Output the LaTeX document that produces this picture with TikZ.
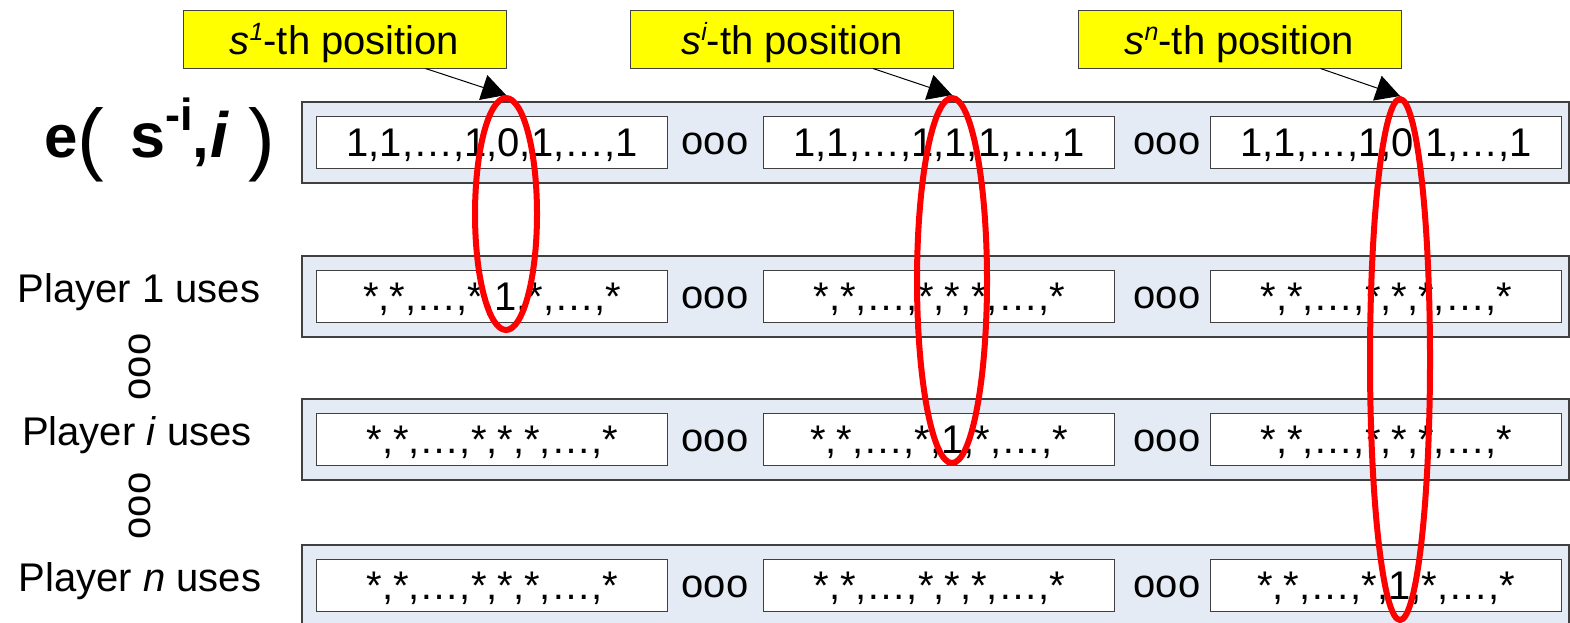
\documentclass[tikz,border=0pt]{standalone}
\usepackage{fontspec}
\setmainfont{Liberation Sans}
\usetikzlibrary{arrows.meta,shapes.geometric,calc}
\definecolor{rowfill}{RGB}{228,235,245}
\definecolor{edgegray}{RGB}{64,64,64}
\definecolor{calloutyellow}{RGB}{255,255,0}
\tikzset{
  rowbox/.style={draw=edgegray, fill=rowfill, line width=1.5pt, minimum width=1267pt, minimum height=81pt, inner sep=0pt, anchor=north west},
  cellbox/.style={draw=edgegray, fill=white, line width=1.3pt, minimum width=351pt, minimum height=52pt, inner sep=0pt, anchor=north west, font=\fontsize{40}{48}\selectfont, text height=28pt, text depth=0pt},
  sepdots/.style={anchor=base, inner sep=0pt, font=\fontsize{40}{48}\selectfont},
  rowlabel/.style={anchor=base, inner sep=0pt, font=\fontsize{40}{48}\selectfont},
  callout/.style={draw=edgegray, fill=calloutyellow, line width=1pt, minimum width=323pt, minimum height=58pt, inner sep=0pt, font=\fontsize{40}{48}\selectfont, text height=30pt, text depth=0pt},
  redring/.style={ellipse, draw=red, line width=6pt, inner sep=0pt},
  pointer/.style={-{Triangle[length=24pt,width=26pt]}, line width=1pt, black},
}
\newcommand{\supit}[1]{\raisebox{14pt}{\fontsize{25}{25}\selectfont\itshape #1}}
\begin{document}
\begin{tikzpicture}[x=1pt,y=-1pt]
\useasboundingbox (0,0) rectangle (1570,622);
\clip (0,0) rectangle (1570,622);

% rows
\foreach \r/\t in {r1/101, r2/255, r3/398, r4/544}{
  \node[rowbox] (\r) at (301,\t) {};
}
% cells row 1
\node[cellbox] (c11) at (316,116) {1,1,…,1,0,1,…,1};
\node[cellbox] (c12) at (763,116) {1,1,…,1,1,1,…,1};
\node[cellbox] (c13) at (1210,116) {1,1,…,1,0,1,…,1};
% row 2
\node[cellbox] (c21) at (316,270) {*,*,…,*,1,*,…,*};
\node[cellbox] (c22) at (763,270) {*,*,…,*,*,*,…,*};
\node[cellbox] (c23) at (1210,270) {*,*,…,*,*,*,…,*};
% row 3
\node[cellbox] (c31) at (316,413) {*,*,…,*,*,*,…,*};
\node[cellbox] (c32) at (763,413) {*,*,…,*,1,*,…,*};
\node[cellbox] (c33) at (1210,413) {*,*,…,*,*,*,…,*};
% row 4
\node[cellbox] (c41) at (316,559) {*,*,…,*,*,*,…,*};
\node[cellbox] (c42) at (763,559) {*,*,…,*,*,*,…,*};
\node[cellbox] (c43) at (1210,559) {*,*,…,*,1,*,…,*};

% ooo separators
\foreach \b/\n in {154/1, 308/2, 451/3, 597/4}{
  \node[sepdots] (sa\n) at (715,\b) {ooo};
  \node[sepdots] (sb\n) at (1167,\b) {ooo};
}

% labels
\node[anchor=base west, inner sep=0pt] (elabel) at (44,157)
  {{\fontsize{60}{60}\selectfont\bfseries e}{\fontsize{80}{80}\selectfont\raisebox{-8pt}{(}}\hspace{26pt}{\fontsize{63}{60}\selectfont\bfseries s}\raisebox{27pt}{\fontsize{45}{45}\selectfont\bfseries -i}{\fontsize{60}{60}\selectfont\bfseries ,}\hspace{1pt}{\fontsize{64}{60}\selectfont\bfseries\itshape i}\hspace{20pt}{\fontsize{80}{80}\selectfont\raisebox{-8pt}{)}}};
\node[rowlabel] (p1) at (139,302) {Player 1 uses};
\node[rowlabel] (pi) at (137,445) {Player \textit{i} uses};
\node[rowlabel] (pn) at (140,591) {Player \textit{n} uses};
\node[rotate=90, inner sep=0pt, font=\fontsize{40}{48}\selectfont] (vd1) at (140,367) {ooo};
\node[rotate=90, inner sep=0pt, font=\fontsize{40}{48}\selectfont] (vd2) at (140,506) {ooo};

% callouts
\node[callout] (k1) at (344.5,39) {\textit{s}\supit{1}-th position};
\node[callout] (k2) at (792,39) {\textit{s}\supit{i}-th position};
\node[callout] (k3) at (1239.5,39) {\textit{s}\supit{n}-th position};

% red ellipses
\node[redring, minimum width=62pt, minimum height=232pt] (e1) at (506,214) {};
\node[redring, minimum width=70pt, minimum height=365pt] (e2) at (952,280.5) {};
\node[redring, minimum width=60pt, minimum height=521pt] (e3) at (1400,359.5) {};

% pointers
\draw[pointer] ($(k1.south)+(81,0)$) -- (e1.north);
\draw[pointer] ($(k2.south)+(81,0)$) -- (e2.north);
\draw[pointer] ($(k3.south)+(81,0)$) -- (e3.north);
\end{tikzpicture}
\end{document}
